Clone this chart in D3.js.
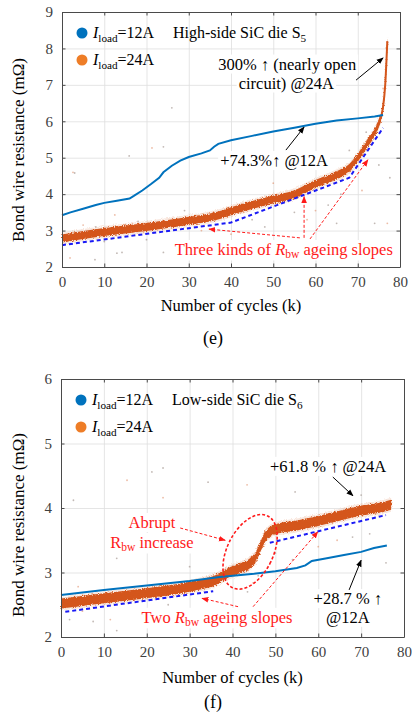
<!DOCTYPE html>
<html>
<head>
<meta charset="utf-8">
<script src="https://cdn.jsdelivr.net/npm/d3@7"></script>
<style>
    body { margin: 0; background: #fff; }
    svg text { font-family: "Liberation Serif", "Times New Roman", serif; }
</style>
</head>
<body>
<svg id="chart" width="412" height="717"></svg>
<script>
// x axis is number of cycles (k), same for both panels
const cycleTicks = [0, 10, 20, 30, 40, 50, 60, 70, 80]
const loadLabels = ['12A', '24A']

// (e) high-side SiC die S5
const highTicks = [2, 3, 4, 5, 6, 7, 8, 9]
const high12Cycles = [0, 2, 5, 8, 10, 13, 16, 17, 19, 21, 23, 24, 26, 28, 30, 33, 35, 36, 37, 40, 45, 50, 55, 60, 65, 70, 74, 76]
const high12Res = [3.42, 3.5, 3.6, 3.7, 3.76, 3.82, 3.88, 3.95, 4.1, 4.27, 4.45, 4.6, 4.78, 4.92, 5.02, 5.12, 5.2, 5.3, 5.38, 5.48, 5.6, 5.72, 5.82, 5.93, 6.02, 6.08, 6.13, 6.17]
const high24Cycles = [0, 5, 10, 15, 20, 25, 30, 35, 38, 40, 45, 50, 55, 60, 65, 68, 70, 72, 74, 75, 76, 76.5, 77]
const high24Res = [2.78, 2.88, 2.96, 3.03, 3.1, 3.18, 3.27, 3.36, 3.45, 3.53, 3.7, 3.85, 4.0, 4.28, 4.52, 4.72, 5.0, 5.35, 5.7, 5.95, 6.4, 7.0, 8.2]
// stray measurement points around the 24A band
const highStray = [[2.6, 4.6], [3, 4.58], [15.9, 5.05], [21.3, 5.27], [24, 5.3], [26, 6.37], [1.9, 2.25], [7.8, 2.2], [13, 2.38],
    [12.5, 3.43], [24, 2.4], [14.2, 2.4], [5, 3.15], [8, 3.1], [18, 3.25], [35, 2.65], [45, 3.3], [55, 3.5], [60, 3.55], [63, 3.7],
    [66, 4.0], [71, 4.1], [74, 3.2], [77.6, 4.45], [77, 3.2], [72, 5.7], [68, 5.2], [50, 4.3], [62, 4.75], [29, 3.55], [40, 2.9],
    [52, 2.55], [65, 3.2], [76, 6.9], [75, 4.8], [48, 3.1], [58, 3.3], [20, 2.75], [10, 2.7], [33, 3.0]]
const highSlopeCycles = [0, 40, 68, 76]
const highSlopeRes = [2.6, 3.22, 4.45, 5.82]

// (f) low-side SiC die S6
const lowTicks = [2, 3, 4, 5, 6]
const low12Cycles = [0, 10, 20, 30, 37, 45, 50, 55, 57, 58.5, 62, 66, 70, 73, 76]
const low12Res = [2.65, 2.73, 2.8, 2.87, 2.93, 2.98, 3.02, 3.07, 3.11, 3.18, 3.22, 3.27, 3.32, 3.38, 3.42]
const low24Cycles = [0, 5, 10, 15, 20, 25, 30, 33, 36, 38, 41, 44, 45.5, 46.5, 47.5, 48.5, 50, 55, 60, 65, 70, 74, 77]
const low24Res = [2.52, 2.56, 2.6, 2.64, 2.68, 2.72, 2.78, 2.82, 2.88, 2.96, 3.05, 3.14, 3.25, 3.4, 3.54, 3.62, 3.67, 3.73, 3.8, 3.88, 3.96, 4.0, 4.05]
const lowStray = [[15.4, 4.43], [21.2, 4.56], [23.8, 4.62], [23.8, 4.16], [2.9, 4.12], [34.3, 4.4], [43.4, 4.36], [13, 3.22],
    [30, 3.09], [4, 2.78], [2, 2.27], [7.5, 2.24], [11.5, 2.27], [13, 2.1], [54.6, 4.25], [44.8, 2.84], [46, 2.95], [54, 3.2],
    [64.4, 3.5], [43.5, 2.7], [75.8, 3.15], [60, 3.4], [68, 3.55], [40, 3.1], [42, 2.75], [50, 3.3], [70, 4.2], [5, 2.4], [25, 2.5], [72, 3.6]]
const lowSlopeCycles = [[1, 35.5], [48.7, 75.8]]
const lowSlopeRes = [[2.39, 2.71], [3.46, 3.89]]

const colors = { blue: '#0072BD', orange: '#D4561C', legendOrange: '#EE7D27', red: '#FF1A1A', dash: '#1A1AF5' }

const svg = d3.select('#chart')
svg.append('rect').attr('width', 412).attr('height', 717).attr('fill', '#fff')
const defs = svg.append('defs')

// rough edges for the dense 24A point cloud
const fuzz = defs.append('filter').attr('id', 'fuzz').attr('filterUnits', 'userSpaceOnUse')
    .attr('x', 0).attr('y', 0).attr('width', 412).attr('height', 717)
fuzz.append('feTurbulence').attr('type', 'fractalNoise').attr('baseFrequency', 1.1).attr('numOctaves', 2).attr('seed', 4).attr('result', 'noise')
fuzz.append('feDisplacementMap').attr('in', 'SourceGraphic').attr('in2', 'noise').attr('scale', 4)
    .attr('xChannelSelector', 'R').attr('yChannelSelector', 'G')

function arrowHead(id, color) {
    defs.append('marker').attr('id', id).attr('viewBox', '0 0 10 10').attr('refX', 9).attr('refY', 5)
        .attr('markerWidth', 7).attr('markerHeight', 7).attr('markerUnits', 'userSpaceOnUse').attr('orient', 'auto')
        .append('path').attr('d', 'M0,1 L10,5 L0,9 Z').attr('fill', color)
}
arrowHead('headBlack', '#000')
arrowHead('headRed', colors.red)

// parts: [{t, italic, sub}]
function richText(g, px, py, parts, opts = {}) {
    const text = g.append('text').attr('x', px).attr('y', py)
        .attr('font-size', opts.size || 16.5).attr('fill', opts.color || '#000')
        .attr('text-anchor', opts.anchor || 'start')
    let shifted = false
    parts.forEach(p => {
        const span = text.append('tspan').text(p.t)
        if (p.italic) span.attr('font-style', 'italic')
        if (p.sub && !shifted) { span.attr('dy', 3.5).attr('font-size', '0.7em'); shifted = true }
        else if (p.sub) span.attr('font-size', '0.7em')
        else if (shifted) { span.attr('dy', -3.5); shifted = false }
    })
    if (opts.bg) {
        const b = text.node().getBBox()
        g.insert('rect', () => text.node()).attr('x', b.x - 2).attr('y', b.y).attr('width', b.width + 4).attr('height', b.height).attr('fill', '#fff')
    }
    return text
}

function arrow(g, p1, p2, red) {
    g.append('line').attr('x1', p1[0]).attr('y1', p1[1]).attr('x2', p2[0]).attr('y2', p2[1])
        .attr('stroke', red ? colors.red : '#000').attr('stroke-width', 1)
        .attr('stroke-dasharray', red ? '3,2' : null)
        .attr('marker-end', red ? 'url(#headRed)' : 'url(#headBlack)')
}

function drawPanel(cfg) {
    const g = svg.append('g')
    const x = d3.scaleLinear().domain([0, 80]).range([cfg.left, cfg.right])
    const y = d3.scaleLinear().domain([cfg.yTicks[0], cfg.yTicks[cfg.yTicks.length - 1]]).range([cfg.bottom, cfg.top])
    const w = cfg.right - cfg.left, h = cfg.bottom - cfg.top

    // grid
    g.append('g').attr('transform', `translate(0,${cfg.bottom})`)
        .call(d3.axisBottom(x).tickValues(cycleTicks).tickSize(-h).tickFormat(''))
        .call(a => a.select('.domain').remove())
        .selectAll('line').attr('stroke', '#dedede').attr('stroke-width', 0.8)
    g.append('g').attr('transform', `translate(${cfg.left},0)`)
        .call(d3.axisLeft(y).tickValues(cfg.yTicks).tickSize(-w).tickFormat(''))
        .call(a => a.select('.domain').remove())
        .selectAll('line').attr('stroke', '#dedede').attr('stroke-width', 0.8)

    // stray points
    g.append('g').selectAll('circle').data(cfg.stray).enter().append('circle')
        .attr('cx', d => x(d[0])).attr('cy', d => y(d[1])).attr('r', 0.9)
        .attr('fill', (d, i) => i % 3 ? '#9a8a84' : '#e0906a').attr('opacity', 0.6)

    // 24A band: dense cloud drawn as a fuzzy band of fixed pixel thickness
    const pts24 = cfg.c24.map((c, i) => [c, cfg.r24[i]])
    const halo = d3.area().curve(d3.curveMonotoneX).x(d => x(d[0]))
        .y0(d => y(d[1]) + cfg.band + 2).y1(d => y(d[1]) - cfg.band - 2)
    g.append('path').attr('d', halo(pts24)).attr('fill', '#e7a07c').attr('opacity', 0.25).attr('filter', 'url(#fuzz)')
    const band = d3.area().curve(d3.curveMonotoneX).x(d => x(d[0]))
        .y0(d => y(d[1]) + cfg.band).y1(d => y(d[1]) - cfg.band)
    g.append('path').attr('d', band(pts24)).attr('fill', colors.orange).attr('filter', 'url(#fuzz)')
    g.append('path').attr('d', band(pts24)).attr('fill', colors.orange).attr('transform', 'scale(1,1)')
        .attr('d', d3.area().curve(d3.curveMonotoneX).x(d => x(d[0]))
            .y0(d => y(d[1]) + cfg.band - 1.5).y1(d => y(d[1]) - cfg.band + 1.5)(pts24))
    g.append('path').attr('d', d3.line().curve(d3.curveMonotoneX).x(d => x(d[0])).y(d => y(d[1]))(pts24))
        .attr('fill', 'none').attr('stroke', colors.orange).attr('stroke-width', 2)

    // 12A line
    const pts12 = cfg.c12.map((c, i) => [c, cfg.r12[i]])
    g.append('path').attr('d', d3.line().x(d => x(d[0])).y(d => y(d[1]))(pts12))
        .attr('fill', 'none').attr('stroke', colors.blue).attr('stroke-width', 2)

    // ageing slope guides
    cfg.slopes.forEach(seg => {
        g.append('path').attr('d', d3.line().x(d => x(d[0])).y(d => y(d[1]))(seg))
            .attr('fill', 'none').attr('stroke', colors.dash).attr('stroke-width', 2).attr('stroke-dasharray', '4,3')
    })

    // frame + ticks (inside, all four sides)
    const tickLen = 3.5
    const fmt = d3.format('d')
    const axes = [
        [d3.axisBottom(x).tickValues(cycleTicks).tickFormat(fmt), `translate(0,${cfg.bottom})`, true],
        [d3.axisTop(x).tickValues(cycleTicks).tickFormat(''), `translate(0,${cfg.top})`, false],
        [d3.axisLeft(y).tickValues(cfg.yTicks).tickFormat(fmt), `translate(${cfg.left},0)`, true],
        [d3.axisRight(y).tickValues(cfg.yTicks).tickFormat(''), `translate(${cfg.right},0)`, false]
    ]
    axes.forEach(([ax, tr, labels]) => {
        const a = g.append('g').attr('transform', tr)
            .call(ax.tickSizeInner(-tickLen).tickSizeOuter(0).tickPadding(labels ? 9 : 0))
        a.attr('font-family', null).attr('font-size', 15)
        a.select('.domain').attr('stroke', '#4a4a4a')
        a.selectAll('line').attr('stroke', '#4a4a4a')
        a.selectAll('text').attr('fill', '#404040')
    })

    // axis titles
    g.append('text').attr('x', (cfg.left + cfg.right) / 2).attr('y', cfg.xTitleY).attr('text-anchor', 'middle')
        .attr('font-size', 16.5).text('Number of cycles (k)')
    g.append('text').attr('transform', `translate(24,${cfg.yTitleY}) rotate(-90)`).attr('text-anchor', 'middle')
        .attr('font-size', 17).text('Bond wire resistance (mΩ)')
    g.append('text').attr('x', 213).attr('y', cfg.panelY).attr('text-anchor', 'middle').attr('font-size', 18).text(cfg.panel)

    // legend
    loadLabels.forEach((lab, i) => {
        const ly = cfg.top + 21 + i * 27
        g.append('circle').attr('cx', cfg.left + 20).attr('cy', ly).attr('r', 5.5)
            .attr('fill', i ? colors.legendOrange : colors.blue)
        richText(g, cfg.left + 31, ly + 5, [{ t: 'I', italic: true }, { t: 'load', sub: true }, { t: '=' + lab }], { size: 16 })
    })
    richText(g, cfg.left + 111, cfg.top + 26, cfg.title, { size: 16 })

    return { g, x, y }
}

// ---- (e)
const e = drawPanel({
    left: 62, right: 400, top: 12, bottom: 267, yTicks: highTicks, band: 4,
    c12: high12Cycles, r12: high12Res, c24: high24Cycles, r24: high24Res, stray: highStray,
    slopes: [highSlopeCycles.map((c, i) => [c, highSlopeRes[i]])],
    title: [{ t: 'High-side SiC die S' }, { t: '5', sub: true }],
    xTitleY: 311, yTitleY: 150, panel: '(e)', panelY: 344
})
richText(e.g, e.x(53.3), e.y(7.42), [{ t: '300% ↑ (nearly open' }], { anchor: 'middle', bg: true })
richText(e.g, e.x(53.1), e.y(6.9), [{ t: 'circuit) @24A' }], { anchor: 'middle', bg: true })
arrow(e.g, [e.x(69.6), e.y(7.13)], [e.x(76), e.y(7.74)])
richText(e.g, e.x(50.2), e.y(4.77), [{ t: '+74.3%↑ @12A' }], { anchor: 'middle', bg: true })
arrow(e.g, [e.x(53), e.y(5.21)], [e.x(57.3), e.y(5.84)])
richText(e.g, e.x(52.5), e.y(2.33), [{ t: 'Three kinds of ' }, { t: 'R', italic: true }, { t: 'bw', sub: true }, { t: ' ageing slopes' }],
    { anchor: 'middle', color: colors.red, bg: true })
arrow(e.g, [e.x(56.3), e.y(2.8)], [e.x(34.8), e.y(3.04)], true)
arrow(e.g, [e.x(57.3), e.y(2.8)], [e.x(57.3), e.y(3.93)], true)
arrow(e.g, [e.x(58.7), e.y(2.77)], [e.x(72.4), e.y(4.94)], true)

// ---- (f)
const f = drawPanel({
    left: 61, right: 404, top: 379, bottom: 637, yTicks: lowTicks, band: 5,
    c12: low12Cycles, r12: low12Res, c24: low24Cycles, r24: low24Res, stray: lowStray,
    slopes: lowSlopeCycles.map((seg, k) => seg.map((c, i) => [c, lowSlopeRes[k][i]])),
    title: [{ t: 'Low-side SiC die S' }, { t: '6', sub: true }],
    xTitleY: 683, yTitleY: 525, panel: '(f)', panelY: 708
})
richText(f.g, f.x(62.3), f.y(4.56), [{ t: '+61.8 % ↑ @24A' }], { anchor: 'middle', bg: true })
arrow(f.g, [f.x(63.4), f.y(4.48)], [f.x(68.1), f.y(4.19)])
richText(f.g, f.x(66.9), f.y(2.51), [{ t: '+28.7 % ↑' }], { anchor: 'middle', bg: true })
richText(f.g, f.x(66.9), f.y(2.22), [{ t: '@12A' }], { anchor: 'middle', bg: true })
arrow(f.g, [f.x(67.2), f.y(2.73)], [f.x(70), f.y(3.19)])
richText(f.g, f.x(21.2), f.y(3.69), [{ t: 'Abrupt' }], { anchor: 'middle', color: colors.red, bg: true })
richText(f.g, f.x(21.2), f.y(3.38), [{ t: 'R' }, { t: 'bw', sub: true }, { t: ' increase' }], { anchor: 'middle', color: colors.red, bg: true })
arrow(f.g, [f.x(27.8), f.y(3.69)], [f.x(38.3), f.y(3.5)], true)
// dashed ellipse round the jump
f.g.append('ellipse').attr('cx', 0).attr('cy', 0).attr('rx', 23).attr('ry', 40)
    .attr('transform', `translate(${f.x(44.1)},${f.y(3.32)}) rotate(26)`)
    .attr('fill', 'none').attr('stroke', colors.red).attr('stroke-width', 1.6).attr('stroke-dasharray', '3,2')
richText(f.g, f.x(36.4), f.y(2.22), [{ t: 'Two ' }, { t: 'R', italic: true }, { t: 'bw', sub: true }, { t: ' ageing slopes' }],
    { anchor: 'middle', color: colors.red, bg: true })
arrow(f.g, [f.x(41.3), f.y(2.47)], [f.x(32.9), f.y(2.6)], true)
arrow(f.g, [f.x(44.8), f.y(2.47)], [f.x(59.9), f.y(3.63)], true)
</script>
</body>
</html>
